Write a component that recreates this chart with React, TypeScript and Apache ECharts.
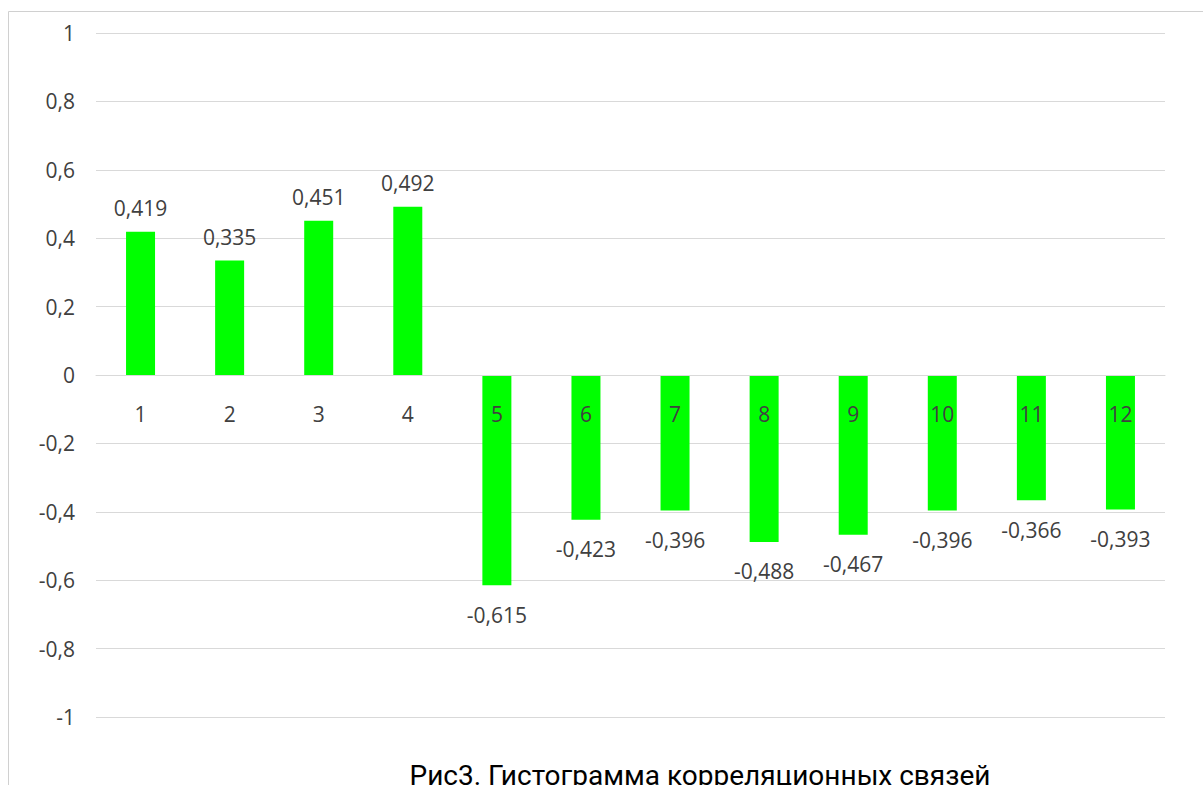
import React, { useEffect, useRef } from "react";
import * as echarts from "echarts";

// Correlation coefficients per factor
const categories = ["1", "2", "3", "4", "5", "6", "7", "8", "9", "10", "11", "12"];
const values = [0.419, 0.335, 0.451, 0.492, -0.615, -0.423, -0.396, -0.488, -0.467, -0.396, -0.366, -0.393];
const yMin = -1;
const yMax = 1;
const yStep = 0.2;
const titleText = "Рис3. Гистограмма корреляционных связей";

const FONT = "'Open Sans', 'Noto Sans', sans-serif";
const TEXT = "#404040";

const GRID_TOP = 33;
const GRID_BOTTOM = 68;
const HEIGHT = 785;

const comma = (v: number, digits: number) =>
  (Math.round(v * Math.pow(10, digits)) / Math.pow(10, digits)).toString().replace(".", ",");

export default function App() {
  const ref = useRef<HTMLDivElement>(null);

  useEffect(() => {
    document.body.style.margin = "0";
    const chart = echarts.init(ref.current!, undefined, { renderer: "svg" });
    // lift the category axis from the bottom edge up to the zero line
    const plotH = HEIGHT - GRID_TOP - GRID_BOTTOM;
    const zeroLift = (plotH * (0 - yMin)) / (yMax - yMin);
    chart.setOption({
      animation: false,
      backgroundColor: "#ffffff",
      grid: { left: 96, right: 38, top: GRID_TOP, bottom: GRID_BOTTOM, containLabel: false },
      xAxis: {
        type: "category",
        data: categories,
        z: 10,
        position: "bottom",
        offset: -zeroLift,
        axisLine: { show: true, onZero: false, lineStyle: { color: "#d9d9d9", width: 1 } },
        axisTick: { show: false },
        axisLabel: { margin: 28, fontFamily: FONT, fontSize: 21, color: TEXT },
        splitLine: { show: false },
      },
      yAxis: {
        type: "value",
        min: yMin,
        max: yMax,
        interval: yStep,
        axisLine: { show: false },
        axisTick: { show: false },
        axisLabel: {
          margin: 21,
          fontFamily: FONT,
          fontSize: 21,
          color: TEXT,
          formatter: (v: number) => comma(v, 1),
        },
        splitLine: { show: true, lineStyle: { color: "#d9d9d9", width: 1 } },
      },
      series: [
        {
          type: "bar",
          data: values.map((v) => ({
            value: v,
            label: v >= 0 ? { position: "top", distance: 13 } : { position: "bottom", distance: 19 },
          })),
          barWidth: 29,
          itemStyle: { color: "#00ff00" },
          label: {
            show: true,
            fontFamily: FONT,
            fontSize: 21,
            color: TEXT,
            formatter: (p: any) => comma(p.value, 3),
          },
        },
      ],
      graphic: [
        {
          type: "rect",
          silent: true,
          shape: { x: 8.5, y: 11.5, width: 1400, height: 1000 },
          style: { fill: "none", stroke: "#d0d0d0", lineWidth: 1 },
        },
        {
          type: "text",
          x: 700,
          y: 775,
          style: {
            text: titleText,
            font: "28px Roboto, 'Open Sans', sans-serif",
            fill: "#000000",
            textAlign: "center",
            textVerticalAlign: "middle",
          },
        },
      ],
    });
    return () => chart.dispose();
  }, []);

  return <div ref={ref} style={{ width: 1203, height: 785, overflow: "hidden" }} />;
}
